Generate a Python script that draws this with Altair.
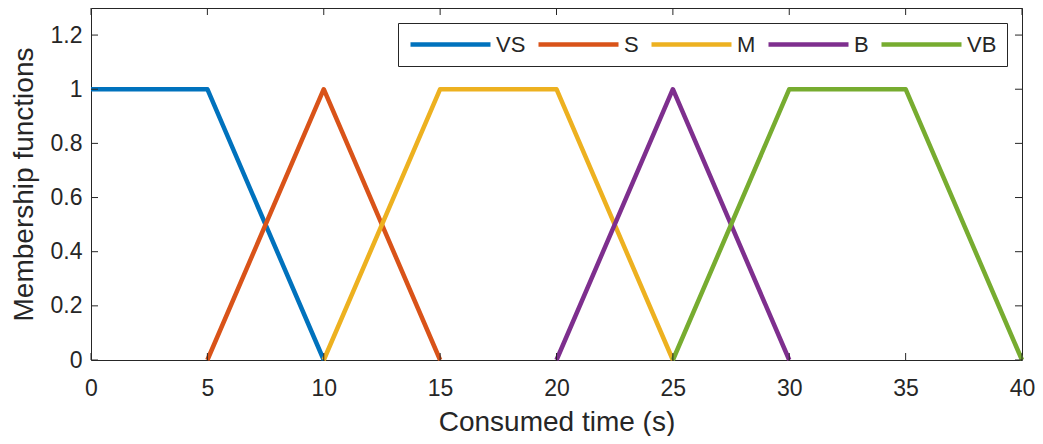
import altair as alt
import pandas as pd

# Membership function breakpoints
series_names = ["VS", "S", "M", "B", "VB"]
series_colors = ["#0072BD", "#D95319", "#EDB120", "#7E2F8E", "#77AC30"]

vs_t = [0, 5, 10]
vs_mu = [1, 1, 0]
s_t = [5, 10, 15]
s_mu = [0, 1, 0]
m_t = [10, 15, 20, 25]
m_mu = [0, 1, 1, 0]
b_t = [20, 25, 30]
b_mu = [0, 1, 0]
vb_t = [25, 30, 35, 40]
vb_mu = [0, 1, 1, 0]

x_ticks = [0, 5, 10, 15, 20, 25, 30, 35, 40]
y_ticks = [0, 0.2, 0.4, 0.6, 0.8, 1, 1.2]

rows = []
for name, ts, mus in zip(series_names, [vs_t, s_t, m_t, b_t, vb_t], [vs_mu, s_mu, m_mu, b_mu, vb_mu]):
    for i, (t, mu) in enumerate(zip(ts, mus)):
        rows.append({"series": name, "t": t, "mu": mu, "order": i})
df = pd.DataFrame(rows)
xt_df = pd.DataFrame({"t": x_ticks})
yt_df = pd.DataFrame({"mu": y_ticks})

FONT = "Liberation Sans"
INK = "#262626"
W, H, TK = 931, 352, 7

xscale = alt.Scale(domain=[0, 40], nice=False, zero=False)
yscale = alt.Scale(domain=[0, 1.3], nice=False, zero=False)

lines = alt.Chart(df).mark_line(strokeWidth=4.5, strokeJoin="round").encode(
    x=alt.X("t:Q", scale=xscale,
            axis=alt.Axis(values=x_ticks, ticks=False, domain=False, grid=False,
                          labelPadding=17, labelFlush=False,
                          title="Consumed time (s)",
                          titleY=70, titleBaseline="alphabetic")),
    y=alt.Y("mu:Q", scale=yscale,
            axis=alt.Axis(values=y_ticks, ticks=False, domain=False, grid=False,
                          labelPadding=9, labelFlush=False, format="~g",
                          title="Membership functions",
                          titleX=-67, titleY=H / 2, titleAngle=-90,
                          titleBaseline="middle", titleAlign="center")),
    color=alt.Color("series:N",
                    scale=alt.Scale(domain=series_names, range=series_colors),
                    legend=alt.Legend(orient="none", legendX=307, legendY=15,
                                      direction="horizontal", title=None,
                                      symbolType="stroke", symbolSize=6400,
                                      symbolStrokeWidth=4.5, clipHeight=23,
                                      labelOffset=3, labelFont=FONT,
                                      labelFontSize=22, labelColor=INK,
                                      strokeColor=INK, fillColor="white",
                                      padding=10, columnPadding=10)),
    order="order:Q",
)

tick_style = dict(color=INK, strokeWidth=1)
xt = alt.X("t:Q", scale=xscale)
yt = alt.Y("mu:Q", scale=yscale)

ticks_bottom = alt.Chart(xt_df).mark_rule(**tick_style).encode(
    x=xt, y=alt.value(H - TK), y2=alt.value(H))
ticks_top = alt.Chart(xt_df).mark_rule(**tick_style).encode(
    x=xt, y=alt.value(0), y2=alt.value(TK))
ticks_left = alt.Chart(yt_df).mark_rule(**tick_style).encode(
    y=yt, x=alt.value(0), x2=alt.value(TK))
ticks_right = alt.Chart(yt_df).mark_rule(**tick_style).encode(
    y=yt, x=alt.value(W - TK), x2=alt.value(W))

chart = alt.layer(lines, ticks_bottom, ticks_top, ticks_left, ticks_right).properties(
    width=W, height=H,
    autosize=alt.AutoSizeParams(type="none"),
    padding={"left": 83, "top": 0, "right": 13, "bottom": 76},
    background="white",
).configure_view(
    stroke=INK, strokeWidth=1
).configure_axis(
    labelFont=FONT, labelFontSize=23, labelColor=INK,
    titleFont=FONT, titleFontSize=28, titleColor=INK, titleFontWeight="normal",
)

chart.save("out.html", embed_options={"renderer": "svg", "actions": False})
